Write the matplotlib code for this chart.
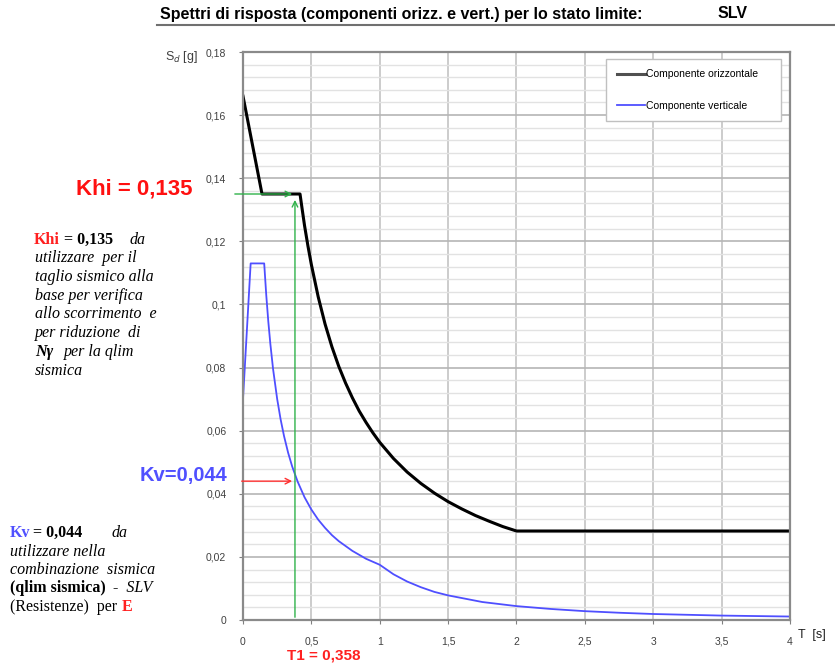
import numpy as np
import matplotlib
matplotlib.use("Agg")
import matplotlib.pyplot as plt
from matplotlib.lines import Line2D
from matplotlib.ticker import MultipleLocator, FuncFormatter

plt.rcParams['font.family'] = ['Liberation Sans', 'DejaVu Sans']

# -----------------------------
# Data
# -----------------------------
t_orizz = [0.0, 0.139, 0.417, 0.43, 0.45, 0.475, 0.5, 0.55, 0.6, 0.65, 0.7, 0.75, 0.8,
           0.85, 0.9, 0.95, 1.0, 1.1, 1.2, 1.3, 1.4, 1.5, 1.6, 1.7, 1.8, 1.9, 2.0, 4.0]
sa_orizz = [0.166, 0.135, 0.135, 0.131, 0.125, 0.1185, 0.1126, 0.1024, 0.0938, 0.0866,
            0.0804, 0.0751, 0.0704, 0.0662, 0.0626, 0.0593, 0.0563, 0.0512, 0.0469,
            0.0433, 0.0402, 0.0375, 0.0352, 0.0331, 0.0313, 0.0296, 0.0282, 0.0282]

t_vert = [0.0, 0.056, 0.155, 0.17, 0.185, 0.2, 0.22, 0.25, 0.275, 0.3, 0.33, 0.36, 0.4,
          0.45, 0.5, 0.55, 0.6, 0.65, 0.7, 0.8, 0.9, 1.0, 1.1, 1.2, 1.3, 1.4, 1.5,
          1.75, 2.0, 2.25, 2.5, 2.75, 3.0, 3.5, 4.0]
sa_vert = [0.070, 0.113, 0.113, 0.103, 0.0946, 0.0875, 0.0795, 0.070, 0.0636, 0.0583,
           0.0530, 0.0486, 0.0438, 0.0389, 0.035, 0.0318, 0.0292, 0.0269, 0.025,
           0.0219, 0.0194, 0.0175, 0.0145, 0.0122, 0.0104, 0.0089, 0.0078, 0.0057,
           0.0044, 0.0035, 0.0028, 0.0023, 0.0019, 0.0014, 0.0011]

x_ticks = [0, 0.5, 1, 1.5, 2, 2.5, 3, 3.5, 4]
y_ticks = [0, 0.02, 0.04, 0.06, 0.08, 0.1, 0.12, 0.14, 0.16, 0.18]

t1_pos = 0.38      # where the T1 line is drawn
khi = 0.135
kv = 0.044

W, H = 835, 666


def px(x, y):
    # pixel coords -> figure fraction
    return x / W, 1 - y / H


def comma(v, pos=None):
    s = f"{v:.2f}".rstrip('0').rstrip('.')
    return s.replace('.', ',')


fig = plt.figure(figsize=(W / 100, H / 100), dpi=100)
ax = fig.add_axes([243 / W, 1 - 620 / H, 547 / W, 568 / H])

# grid
ax.set_xlim(0, 4)
ax.set_ylim(0, 0.18)
ax.yaxis.set_major_locator(MultipleLocator(0.02))
ax.yaxis.set_minor_locator(MultipleLocator(0.004))
ax.xaxis.set_major_locator(MultipleLocator(0.5))
ax.grid(axis='y', which='major', color='#b5b5b5', lw=1.2)
ax.grid(axis='y', which='minor', color='#e2e2e2', lw=1.0)
ax.grid(axis='x', which='major', color='#c4c4c4', lw=1.2)
ax.set_axisbelow(True)
ax.tick_params(axis='y', which='minor', length=0)
ax.tick_params(axis='both', which='major', length=3, color='#808080',
               labelsize=7.5, labelcolor='#404040')
ax.tick_params(axis='y', pad=9)
ax.tick_params(axis='x', pad=9)
ax.set_xticks(x_ticks)
ax.set_yticks(y_ticks)
ax.xaxis.set_major_formatter(FuncFormatter(comma))
ax.yaxis.set_major_formatter(FuncFormatter(comma))
for sp in ax.spines.values():
    sp.set_color('#8a8a8a')
    sp.set_linewidth(1.6)

# spectra
ax.plot(t_orizz, sa_orizz, color='black', lw=2.2, label='Componente orizzontale')
ax.plot(t_vert, sa_vert, color='#4f4fff', lw=1.3, label='Componente verticale')

leg = ax.legend(loc='upper left', bbox_to_anchor=(0.664, 0.877, 0.32, 0.111), mode='expand',
                fontsize=7.5, labelspacing=2.05, handlelength=2.7, handletextpad=0.15,
                borderpad=1.0, borderaxespad=0, fancybox=False, edgecolor='#c0c0c0',
                framealpha=1)
leg.get_lines()[0].set_color('#505050')

# T1 line and arrows
green = '#2fb24a'
ax.annotate('', xy=(t1_pos, khi - 0.001), xytext=(t1_pos, 0),
            arrowprops=dict(arrowstyle='->', color=green, lw=1.0))
ax.annotate('', xy=(t1_pos, khi), xytext=(-0.08, khi),
            arrowprops=dict(arrowstyle='->', color=green, lw=1.0), annotation_clip=False)
ax.annotate('', xy=(t1_pos, kv), xytext=(-0.03, kv),
            arrowprops=dict(arrowstyle='->', color='#ff3030', lw=1.0), annotation_clip=False)

# title with rule underneath
fig.text(*px(160, 14), 'Spettri di risposta (componenti orizz. e vert.) per lo stato limite:',
         fontsize=11.5, fontweight='bold', va='center')
fig.text(*px(718, 14), 'SLV', fontsize=11.5, fontweight='bold', va='center')
fig.add_artist(Line2D([157 / W, 1], [1 - 25 / H, 1 - 25 / H], color='#707070', lw=1.5))

# axis labels
fig.text(*px(165, 57), 'S$_d$ [g]', fontsize=9, color='#404040', va='center')
fig.text(*px(798, 635), 'T  [s]', fontsize=9, color='#202020', va='center')
fig.text(*px(287, 656), 'T1 = 0,358', fontsize=11, color='#ff2020', fontweight='bold',
         va='center')

# big labels
fig.text(*px(193, 189), 'Khi = 0,135', fontsize=16, color='#ff1010', fontweight='bold',
         va='center', ha='right')
fig.text(*px(227, 475), 'Kv=0,044', fontsize=14.5, color='#5050ff', fontweight='bold',
         va='center', ha='right')

# explanatory notes
serif = ['Liberation Serif', 'DejaVu Serif']
fs = 11.5


def note(x, y, s, **kw):
    fig.text(*px(x, y), s, family=serif, fontsize=fs, va='center', **kw)


note(34, 240, 'Khi', color='#ff2020', fontweight='bold')
note(64, 240, '= 0,135', fontweight='bold')
note(130, 240, 'da', style='italic')
khi_lines = ['utilizzare  per il', 'taglio sismico alla', 'base per verifica',
             'allo scorrimento  e', 'per riduzione  di']
for i, s in enumerate(khi_lines):
    note(35, 258 + i * 18.8, s, style='italic')
note(35, 352, 'N\u03b3', style='italic', fontweight='bold')
note(64, 352, 'per la qlim', style='italic')
note(35, 371, 'sismica', style='italic')

note(10, 533, 'Kv', color='#5050ff', fontweight='bold')
note(33, 533, '= 0,044', fontweight='bold')
note(112, 533, 'da', style='italic')
note(10, 552, 'utilizzare nella', style='italic')
note(10, 570, 'combinazione  sismica', style='italic')
note(10, 588, '(qlim sismica)', fontweight='bold')
note(113, 588, '-  SLV', style='italic')
note(10, 607, '(Resistenze)  per')
note(122, 607, 'E', color='#ff2020', fontweight='bold')

fig.savefig('out.png', dpi=100)
